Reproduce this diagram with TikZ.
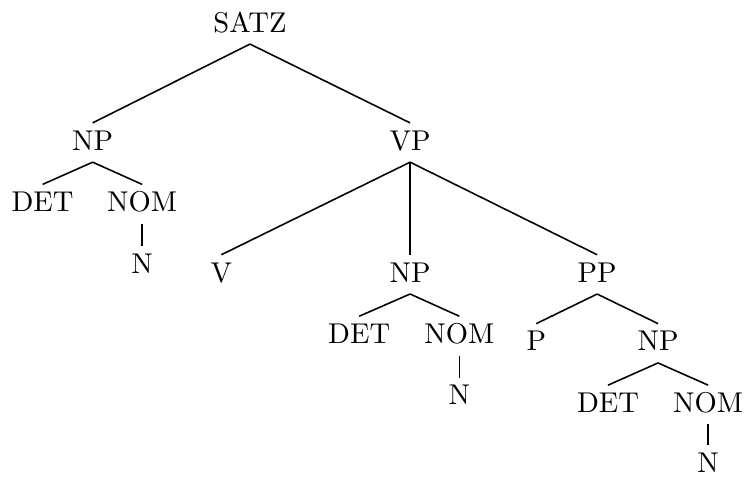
\documentclass[tikz,border=0pt]{standalone}
\usepackage{tikz}
\usetikzlibrary{positioning}

\begin{document}
\begin{tikzpicture}[
    cat/.style={inner xsep=2pt, inner ysep=2.5pt, text height=6.83pt, text depth=1.5pt},
    branch/.style={-, line width=0.55pt},
    node distance=21.5pt
]
\useasboundingbox (0,0) rectangle (261.2pt,-166.8pt);

\node[cat, anchor=base] (satz) at (87.4pt,-11.2pt) {SATZ};
\node[cat, below of=satz, xshift=-55pt, yshift=-19.8pt] (np1) {NP};
\node[cat, below of=satz, xshift=56pt, yshift=-19.8pt] (vp) {VP};

\node[cat, below of=np1, xshift=-17.5pt] (det1) {DET};
\node[cat, below of=np1, xshift=17.3pt] (nom1) {NOM};
\node[cat, below of=nom1] (n1) {N};

\node[cat, below of=vp, xshift=-66pt, yshift=-24.6pt] (v) {V};
\node[cat, below of=vp, yshift=-24.6pt] (np2) {NP};
\node[cat, below of=vp, xshift=65.4pt, yshift=-24.6pt] (pp) {PP};

\node[cat, below of=np2, xshift=-17.8pt] (det2) {DET};
\node[cat, below of=np2, xshift=17.2pt] (nom2) {NOM};
\node[cat, below of=nom2] (n2) {N};

\node[cat, below of=pp, xshift=-21.3pt, yshift=-2.6pt] (p) {P};
\node[cat, below of=pp, xshift=21.3pt, yshift=-2.6pt] (np3) {NP};

\node[cat, below of=np3, xshift=-17.5pt] (det3) {DET};
\node[cat, below of=np3, xshift=17.5pt] (nom3) {NOM};
\node[cat, below of=nom3, yshift=0.5pt] (n3) {N};

\draw[branch] (satz.south) -- (np1.north);
\draw[branch] (satz.south) -- (vp.north);
\draw[branch] (np1.south) -- (det1.north);
\draw[branch] (np1.south) -- (nom1.north);
\draw[branch] (nom1.south) -- (n1.north);
\draw[branch] (vp.south) -- (v.north);
\draw[branch] (vp.south) -- (np2.north);
\draw[branch] (vp.south) -- (pp.north);
\draw[branch] (np2.south) -- (det2.north);
\draw[branch] (np2.south) -- (nom2.north);
\draw[branch] (nom2.south) -- (n2.north);
\draw[branch] (pp.south) -- (p.north);
\draw[branch] (pp.south) -- (np3.north);
\draw[branch] (np3.south) -- (det3.north);
\draw[branch] (np3.south) -- (nom3.north);
\draw[branch] (nom3.south) -- (n3.north);

\end{tikzpicture}
\end{document}
